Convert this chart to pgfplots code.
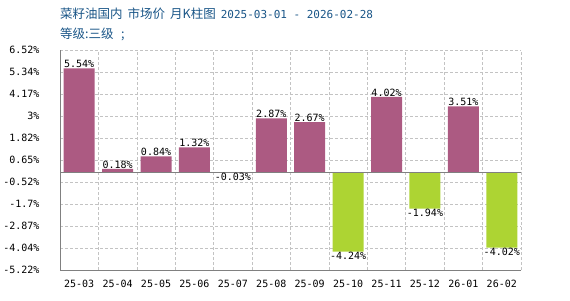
\documentclass[border=0pt]{standalone}
\usepackage{pgfplots}
\pgfplotsset{compat=1.18}
\usepackage{fontspec}
\setmonofont{DejaVu Sans Mono}
\newfontfamily\cjk{Noto Sans CJK SC}
\definecolor{posc}{RGB}{172,90,130}
\definecolor{negc}{RGB}{173,212,51}
\definecolor{titc}{RGB}{25,85,135}
\definecolor{gridc}{RGB}{195,195,195}
\definecolor{axc}{RGB}{128,128,128}
\begin{document}
\begin{tikzpicture}
\useasboundingbox (0,0) rectangle (570pt,300pt);
\begin{axis}[
  at={(60pt,30pt)}, anchor=south west,
  scale only axis, width=461pt, height=220pt,
  xmin=-0.5, xmax=11.5, ymin=-5.22, ymax=6.52,
  axis x line*=bottom, axis y line*=left,
  axis line style={axc, line width=0.8pt, -},
  xtick={0,...,11},
  xticklabels={25-03,25-04,25-05,25-06,25-07,25-08,25-09,25-10,25-11,25-12,26-01,26-02},
  minor xtick={0.5,1.5,...,11.5},
  ytick={-5.22,-4.04,-2.87,-1.7,-0.52,0.65,1.82,3,4.17,5.34,6.52},
  yticklabels={-5.22\%,-4.04\%,-2.87\%,-1.7\%,-0.52\%,0.65\%,1.82\%,3\%,4.17\%,5.34\%,6.52\%},
  ymajorgrids, xminorgrids,
  major grid style={gridc, dash pattern=on 3pt off 2pt, line width=0.6pt},
  minor grid style={gridc, dash pattern=on 3pt off 2pt, line width=0.6pt},
  major tick length=0pt, minor tick length=0pt,
  tick label style={font=\ttfamily\fontsize{10}{11}\selectfont, text=black},
  yticklabel style={xshift=-17pt},
  xticklabel style={yshift=-7pt},
  nodes near coords,
  point meta=explicit symbolic,
  every node near coord/.append style={font=\ttfamily\fontsize{10}{11}\selectfont, text=black},
  clip=false,
]
\addplot[ybar, bar width=31pt, bar shift=0pt, fill=posc, draw=none,
  nodes near coords style={anchor=south, yshift=-3pt}]
  coordinates {(0,5.54)[5.54\%] (1,0.18)[0.18\%] (2,0.84)[0.84\%] (3,1.32)[1.32\%] (5,2.87)[2.87\%] (6,2.67)[2.67\%] (8,4.02)[4.02\%] (10,3.51)[3.51\%]};
\addplot[ybar, bar width=31pt, bar shift=0pt, fill=negc, draw=none,
  nodes near coords style={anchor=north, yshift=3pt}]
  coordinates {(4,-0.03)[-0.03\%] (7,-4.24)[-4.24\%] (9,-1.94)[-1.94\%] (11,-4.02)[-4.02\%]};
\draw[axc, line width=0.8pt] (axis cs:-0.5,0) -- (axis cs:11.5,0);
\end{axis}
\node[anchor=base west, inner sep=0pt, text=titc] at (60pt,281pt)
  {{\cjk\fontsize{12.5}{14}\selectfont 菜籽油国内\hspace{0.4em}市场价\hspace{0.4em}月K柱图}\hspace{0.5em}{\ttfamily\fontsize{11}{13}\selectfont 2025-03-01 - 2026-02-28}};
\node[anchor=base west, inner sep=0pt, text=titc] at (60pt,261pt)
  {\cjk\fontsize{12.5}{14}\selectfont 等级:三级\hspace{0.6em};};
\end{tikzpicture}
\end{document}
